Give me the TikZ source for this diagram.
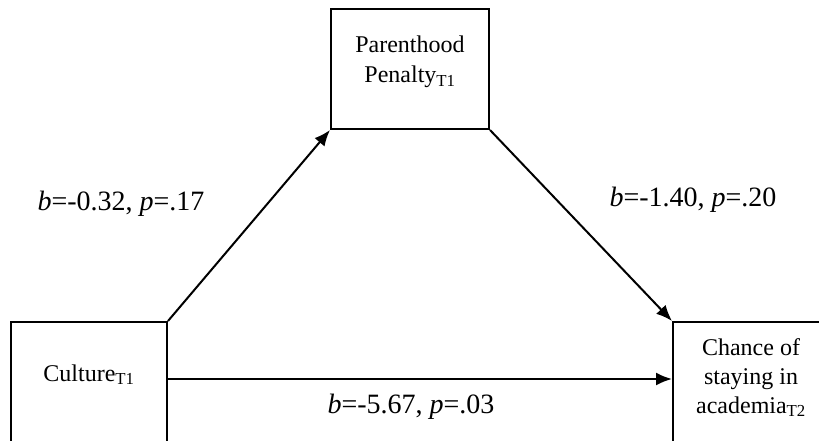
\documentclass[tikz,border=0pt]{standalone}
\usepackage{fontspec}
\setmainfont{Liberation Serif}
\usetikzlibrary{arrows.meta}

\begin{document}
\begin{tikzpicture}[
		x=1pt, y=-1pt,
		varbox/.style = {shape=rectangle, draw, line width=2pt,
				inner xsep=0pt, inner ysep=0pt, minimum width=158pt,
				font=\fontsize{24}{29}\selectfont},
		coef/.style = {inner sep=0pt, font=\fontsize{28}{32}\selectfont},
		path/.style = {draw, line width=2pt, -{Latex[length=16pt,width=13pt]}}
	]
	\useasboundingbox (0,0) rectangle (819,441);

	\node[varbox, anchor=north west, text height=44pt, text depth=76pt] (penalty) at (330,8)
		{\begin{tabular}[t]{@{}c@{}}Parenthood\\[1pt]Penalty\textsubscript{T1}\end{tabular}};
	\node[varbox, anchor=north west, minimum width=156pt, text height=59pt, text depth=90pt] (culture) at (10,321)
		{Culture\textsubscript{T1}};
	\node[varbox, anchor=north west, minimum width=156pt, text height=33pt, text depth=110pt] (chance) at (672,321)
		{\begin{tabular}[t]{@{}c@{}}Chance of\\staying in\\academia\textsubscript{T2}\end{tabular}};

	\draw[path] (culture.north east) -- (penalty.south west);
	\draw[path] (penalty.south east) -- (chance.north west);
	\draw[path] ([yshift=-58pt]culture.north east) -- ([yshift=-58pt]chance.north west);

	\node[coef] (bcp) at (121,204) {\textit{b}=-0.32, \textit{p}=.17};
	\node[coef] (bpc) at (693,200) {\textit{b}=-1.40, \textit{p}=.20};
	\node[coef] (bcc) at (411,407) {\textit{b}=-5.67, \textit{p}=.03};
\end{tikzpicture}
\end{document}
